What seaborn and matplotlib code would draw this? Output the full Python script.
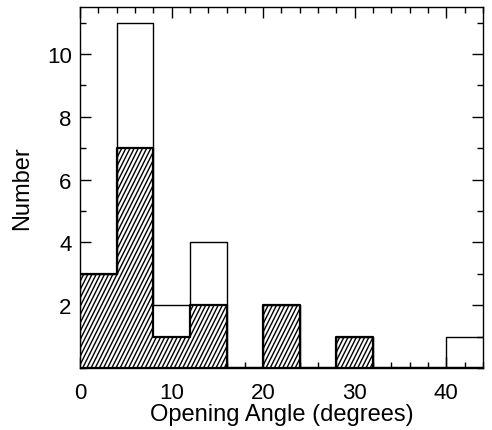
import numpy as np
import matplotlib
matplotlib.use("Agg")
import matplotlib.pyplot as plt
import matplotlib.hatch as mhatch
from matplotlib.path import Path
import seaborn as sns
from matplotlib.ticker import MultipleLocator, FixedLocator

# Data (histogram, bin width 4 degrees)
bin_edges = [0, 4, 8, 12, 16, 20, 24, 28, 32, 36, 40, 44]
total_counts = [3, 11, 2, 4, 0, 2, 0, 1, 0, 0, 1]
subset_counts = [3, 7, 1, 2, 0, 2, 0, 1, 0, 0, 0]
xlabel = "Opening Angle (degrees)"
ylabel = "Number"


# Steeper diagonal hatch (slope 2) used for '/' characters
class SteepHatch(mhatch.HatchPatternBase):
    def __init__(self, hatch, density):
        n = int(hatch.count('/') * density)
        if n % 2:
            n += 1
        self.n = n
        if n:
            self.num_lines = int(1.5 * n) + 1
            self.num_vertices = self.num_lines * 2
        else:
            self.num_lines = 0
            self.num_vertices = 0

    def set_vertices_and_codes(self, vertices, codes):
        c = -0.5 + np.arange(self.num_lines) / self.n
        vertices[0::2, 0] = c
        vertices[0::2, 1] = 0.0
        vertices[1::2, 0] = c + 0.5
        vertices[1::2, 1] = 1.0
        codes[0::2] = Path.MOVETO
        codes[1::2] = Path.LINETO


mhatch._hatch_types[:] = [SteepHatch if t is mhatch.NorthEastHatch else t
                          for t in mhatch._hatch_types]

sns.set_style("ticks")
plt.rcParams['font.family'] = ['Liberation Sans', 'DejaVu Sans']
plt.rcParams['hatch.linewidth'] = 1.0
plt.rcParams['text.color'] = 'black'
plt.rcParams['axes.labelcolor'] = 'black'
plt.rcParams['xtick.color'] = 'black'
plt.rcParams['ytick.color'] = 'black'

centers = [(a + b) / 2 for a, b in zip(bin_edges[:-1], bin_edges[1:])]

fig = plt.figure(figsize=(4.92, 4.31), dpi=100)
ax = fig.add_axes([0.1626, 0.1439, 0.8191, 0.8375])

sns.histplot(x=centers, weights=subset_counts, bins=bin_edges, ax=ax,
             element="step", fill=True, color="black", facecolor="white",
             edgecolor="black", linewidth=1.6, hatch="////", alpha=1)
sns.histplot(x=centers, weights=total_counts, bins=bin_edges, ax=ax,
             element="step", fill=False, color="black", linewidth=1.0)

ax.set_xlim(0, 44)
ax.set_ylim(0, 11.5)
ax.xaxis.set_major_locator(FixedLocator([0, 10, 20, 30, 40]))
ax.xaxis.set_minor_locator(MultipleLocator(2))
ax.yaxis.set_major_locator(FixedLocator([2, 4, 6, 8, 10]))
ax.yaxis.set_minor_locator(MultipleLocator(1))
ax.tick_params(which="both", direction="in", top=True, right=True,
               color="black", width=1.0, labelcolor="black")
ax.tick_params(which="major", length=8, labelsize=16)
ax.tick_params(axis="y", which="major", pad=6)
ax.tick_params(axis="x", which="major", pad=10)
ax.tick_params(which="minor", length=4)
for s in ax.spines.values():
    s.set_linewidth(1.0)
    s.set_color("black")

ax.set_xlabel(xlabel, fontsize=17, labelpad=0)
ax.set_ylabel(ylabel, fontsize=17, labelpad=10)

fig.savefig("out.png", dpi=100)
